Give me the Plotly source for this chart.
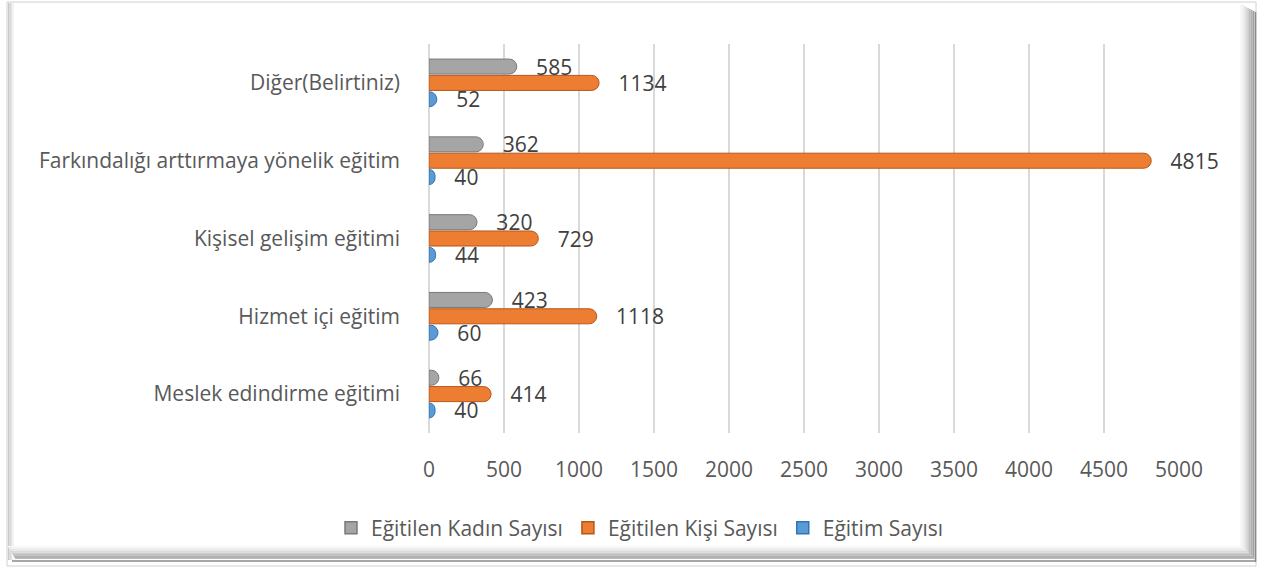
import plotly.graph_objects as go

categories = ["Meslek edindirme eğitimi", "Hizmet içi eğitim", "Kişisel gelişim eğitimi",
              "Farkındalığı arttırmaya yönelik eğitim", "Diğer(Belirtiniz)"]
egitim_sayisi = [40, 60, 44, 40, 52]
egitilen_kisi = [414, 1118, 729, 4815, 1134]
egitilen_kadin = [66, 423, 320, 362, 585]
x_ticks = [0, 500, 1000, 1500, 2000, 2500, 3000, 3500, 4000, 4500, 5000]

W, H = 1261, 569
L, R, T, B = 429, 1179, 44, 433
FONT = "Open Sans"
FS = 21


def px(x):
    return (x - L) / (R - L)


def py(y):
    return (B - y) / (B - T)


series = [
    ("Eğitim Sayısı", egitim_sayisi, "#5b9bd5", "#2e75b6"),
    ("Eğitilen Kişi Sayısı", egitilen_kisi, "#ed7d31", "#b8561a"),
    ("Eğitilen Kadın Sayısı", egitilen_kadin, "#a5a5a5", "#7a7a7a"),
]

fig = go.Figure()
for name, vals, col, edge in series:
    fig.add_trace(go.Bar(
        y=categories, x=vals, name=name, orientation="h", showlegend=False,
        marker=dict(color=col, line=dict(color=edge, width=1), cornerradius="50%"),
        texttemplate="\u00a0\u00a0\u00a0%{x}", textposition="outside",
        constraintext="none", cliponaxis=False,
        textfont=dict(family=FONT, size=FS, color="#404040"),
    ))

# legend-only entries (square swatches), order as in the reference legend
for name, vals, col, edge in reversed(series):
    fig.add_trace(go.Scatter(
        x=[None], y=[None], mode="markers", name=name, showlegend=True,
        marker=dict(symbol="square", size=12, color=col, line=dict(color=edge, width=1.5)),
    ))

shapes = []
shapes.append(dict(type="rect", xref="paper", yref="paper", layer="below",
                   x0=px(7), x1=px(1256), y0=py(566), y1=py(2),
                   fillcolor="white", line=dict(color="#d0d0d0", width=1)))
for i, g in enumerate([200, 215, 230, 242]):
    shapes.append(dict(type="rect", xref="paper", yref="paper", layer="below",
                       x0=px(8 + i * 1.5), x1=px(9.5 + i * 1.5), y0=py(560), y1=py(3),
                       fillcolor=f"rgb({g},{g},{g})", line=dict(width=0)))
levels = [248, 240, 230, 218, 205, 190, 175, 160]
for i, g in enumerate(levels):
    c = f"rgb({g},{g},{g})"
    shapes.append(dict(type="rect", xref="paper", yref="paper", layer="below",
                       x0=px(1240 + i * 1.8), x1=px(1241.8 + i * 1.8),
                       y0=py(546 + i * 1.6), y1=py(4 + i),
                       fillcolor=c, line=dict(width=0)))
    shapes.append(dict(type="rect", xref="paper", yref="paper", layer="below",
                       x0=px(8 + i), x1=px(1241.8 + i * 1.8),
                       y0=py(547.6 + i * 1.6), y1=py(546 + i * 1.6),
                       fillcolor=c, line=dict(width=0)))
shapes.append(dict(type="line", xref="paper", yref="paper", layer="below",
                   x0=px(1255.5), x1=px(1255.5), y0=py(562), y1=py(12),
                   line=dict(color="#8a8a8a", width=1.5)))
shapes.append(dict(type="line", xref="paper", yref="paper", layer="below",
                   x0=px(12), x1=px(1255.5), y0=py(561), y1=py(561),
                   line=dict(color="#8a8a8a", width=1.5)))

fig.update_layout(
    width=W, height=H,
    margin=dict(l=L, r=W - R, t=T, b=H - B),
    paper_bgcolor="white", plot_bgcolor="rgba(0,0,0,0)",
    barmode="group", bargap=0.37, bargroupgap=0.08,
    font=dict(family=FONT, color="#595959"),
    shapes=shapes,
    xaxis=dict(range=[0, 5000], tickvals=x_ticks, showgrid=True, gridcolor="#d9d9d9",
               gridwidth=2, zeroline=True, zerolinecolor="#d9d9d9", zerolinewidth=2,
               showline=False, ticks="", ticklabelstandoff=22,
               tickfont=dict(family=FONT, size=FS, color="#595959")),
    yaxis=dict(categoryorder="array", categoryarray=categories, showgrid=False,
               showline=False, ticks="", ticklabelstandoff=28,
               tickfont=dict(family=FONT, size=FS, color="#595959")),
    legend=dict(orientation="h", traceorder="normal", xref="container", yref="container",
                x=640 / W, xanchor="center", y=1 - 528 / H, yanchor="middle",
                font=dict(family=FONT, size=21, color="#595959"),
                itemwidth=30, bgcolor="rgba(0,0,0,0)"),
    showlegend=True,
)

fig.write_html("out.html", config={"displayModeBar": False},
               post_script="document.body.style.margin='0';document.body.style.overflow='hidden';")
